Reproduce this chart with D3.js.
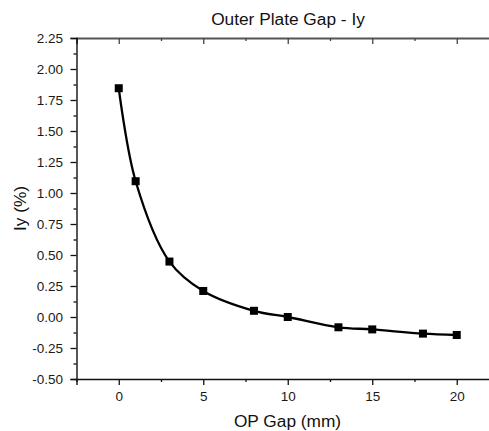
<!DOCTYPE html>
<html><head><meta charset="utf-8">
<script src="https://cdn.jsdelivr.net/npm/d3@7/dist/d3.min.js"></script>
<style>body{margin:0;background:#fff;} svg{display:block;font-family:"Liberation Sans",Arial,sans-serif;}</style>
</head><body>
<svg id="c" width="489" height="431"></svg>
<script>
const gapMm = [0, 1, 3, 5, 8, 10, 13, 15, 18, 20];
const iyPct = [1.845, 1.095, 0.447, 0.21, 0.05, 0.0, -0.083, -0.10, -0.134, -0.145];
const xTicks = [0, 5, 10, 15, 20];
const yTicks = [-0.5, -0.25, 0, 0.25, 0.5, 0.75, 1.0, 1.25, 1.5, 1.75, 2.0, 2.25];
const title = "Outer Plate Gap - Iy";
const xLabel = "OP Gap (mm)";
const yLabel = "Iy (%)";

const svg = d3.select("#c");
const L = 76.5, T = 38, B = 379;
const x = d3.scaleLinear().domain([-2.5, 22.5]).range([L, L + 25 * 16.9]);
const y = d3.scaleLinear().domain([-0.5, 2.25]).range([B, T]);

const minorX = d3.range(-2.5, 22.51, 2.5).filter(v => !xTicks.includes(v));
const minorY = d3.range(-0.375, 2.25, 0.25);
const fnt = '"Liberation Sans",Arial,sans-serif';

function style(g) {
  g.selectAll(".domain").attr("stroke", "#111").attr("stroke-width", 1.4);
  g.selectAll(".tick line").attr("stroke", "#111").attr("stroke-width", 1.3);
  g.selectAll(".tick text").attr("font-size", 13.5).attr("fill", "#1a1a1a").attr("font-family", fnt);
}

// bottom axis
const gb = svg.append("g").attr("transform", `translate(0,${B})`)
  .call(d3.axisBottom(x).tickValues(xTicks).tickSize(6).tickPadding(6).tickFormat(d3.format("d")));
const gbm = svg.append("g").attr("transform", `translate(0,${B})`)
  .call(d3.axisBottom(x).tickValues(minorX).tickSize(3).tickFormat(""));
gbm.select(".domain").remove();
// top axis (ticks pointing inward)
const gt = svg.append("g").attr("transform", `translate(0,${T})`)
  .call(d3.axisBottom(x).tickValues(xTicks).tickSize(6).tickFormat(""));
const gtm = svg.append("g").attr("transform", `translate(0,${T})`)
  .call(d3.axisBottom(x).tickValues(minorX).tickSize(3).tickFormat(""));
gtm.select(".domain").remove();
// left axis
const gl = svg.append("g").attr("transform", `translate(${L},0)`)
  .call(d3.axisLeft(y).tickValues(yTicks).tickSize(6).tickPadding(7.5)
    .tickFormat(d => (d < 0 ? "-" : "") + Math.abs(d).toFixed(2)));
const glm = svg.append("g").attr("transform", `translate(${L},0)`)
  .call(d3.axisLeft(y).tickValues(minorY).tickSize(3).tickFormat(""));
glm.select(".domain").remove();

[gb, gbm, gt, gtm, gl, glm].forEach(style);
gt.select(".domain").attr("stroke", "#555").attr("stroke-width", 2);
gt.selectAll(".tick line").attr("stroke", "#444");
gtm.selectAll(".tick line").attr("stroke", "#444");

// curve
const pts = gapMm.map((g, i) => [g, iyPct[i]]);
svg.append("path").datum(pts)
  .attr("fill", "none").attr("stroke", "#000").attr("stroke-width", 2.3)
  .attr("d", d3.line().x(d => x(d[0])).y(d => y(d[1])).curve(d3.curveCatmullRom.alpha(0.5)));

svg.selectAll("rect.m").data(pts).enter().append("rect").attr("class", "m")
  .attr("x", d => x(d[0]) - 4).attr("y", d => y(d[1]) - 4)
  .attr("width", 8).attr("height", 8).attr("fill", "#000");

svg.append("text").attr("x", 288).attr("y", 25).attr("text-anchor", "middle")
  .attr("font-size", 17.3).attr("fill", "#111").text(title);
svg.append("text").attr("x", 287.5).attr("y", 426.5).attr("text-anchor", "middle")
  .attr("font-size", 17.3).attr("fill", "#111").text(xLabel);
svg.append("text").attr("transform", "translate(25.5,208.5) rotate(-90)").attr("text-anchor", "middle")
  .attr("font-size", 17.3).attr("fill", "#111").text(yLabel);
</script>
</body></html>
